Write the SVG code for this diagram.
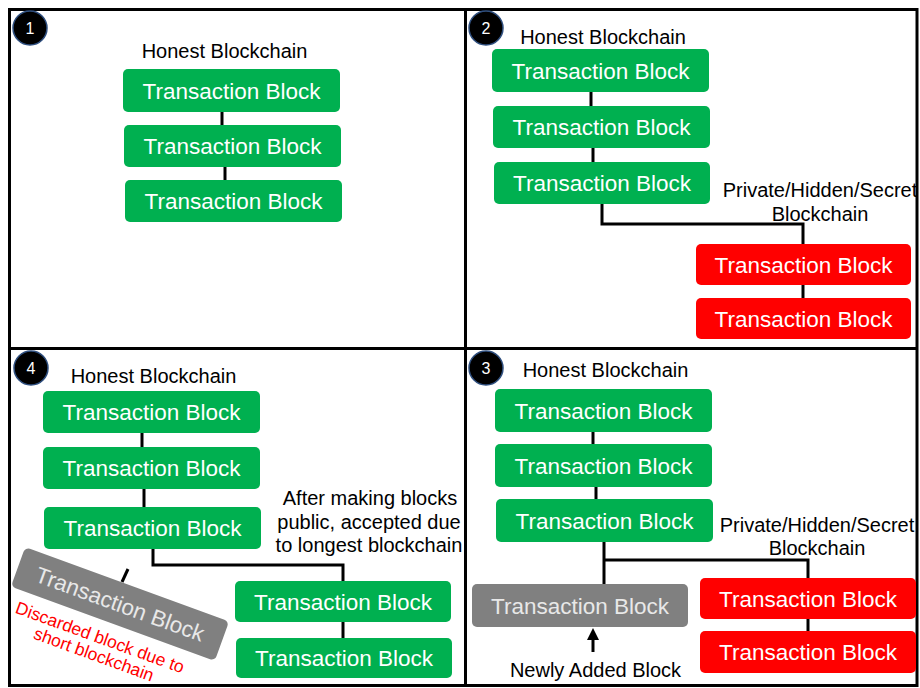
<svg xmlns="http://www.w3.org/2000/svg" width="920" height="688" viewBox="0 0 920 688">
<style>
text{font-family:"Liberation Sans",Arial,sans-serif}
.lbl{font-size:20px;fill:#000;text-anchor:middle}
.bt{font-size:22.5px;fill:#fff;text-anchor:middle}
.gt{font-size:22.5px;fill:#e8e8e8;text-anchor:middle}
.g{fill:#00b050}
.r{fill:#ff0000}
.gr{fill:#808080}
.badge circle{fill:#000;stroke:#2f4f7f;stroke-width:1.5}
.badge text{font-size:16px;fill:#fff;text-anchor:middle}
.c{stroke:#000;stroke-width:3;fill:none}
.red{font-size:17.5px;fill:#ff0000;text-anchor:middle}
</style>
<rect width="920" height="688" fill="#fff"/>
<g id="frame" fill="none" stroke="#000" stroke-width="3">
<rect x="9.5" y="9.5" width="907.5" height="676"/>
<line x1="465.5" y1="9.5" x2="465.5" y2="685.5"/>
<line x1="9.5" y1="348.5" x2="917" y2="348.5"/>
</g>
<g id="connectors">
<line class="c" x1="222" y1="112" x2="222" y2="125"/>
<line class="c" x1="225" y1="167" x2="225" y2="180"/>
<line class="c" x1="591" y1="92" x2="591" y2="106"/>
<line class="c" x1="593" y1="148" x2="593" y2="162"/>
<path class="c" d="M602 204V224H803V244"/>
<line class="c" x1="803" y1="285" x2="803" y2="298"/>
<line class="c" x1="142" y1="433" x2="142" y2="447"/>
<line class="c" x1="144" y1="489" x2="144" y2="507"/>
<path class="c" d="M153 549V565H343V581"/>
<line class="c" x1="343" y1="622" x2="343" y2="638"/>
<line class="c" x1="128" y1="569" x2="122" y2="582"/>
<line class="c" x1="593" y1="432" x2="593" y2="444"/>
<line class="c" x1="596" y1="487" x2="596" y2="499"/>
<path class="c" d="M604 542V585M604 560H808V578"/>
<line class="c" x1="808" y1="619" x2="808" y2="631"/>
<line class="c" x1="593" y1="652" x2="593" y2="638"/>
<polygon points="593,628 587,640 599,640" fill="#000"/>
</g>
<!-- Panel 1 -->
<g id="badge1" class="badge"><circle cx="30" cy="28" r="17"/><text x="30" y="34">1</text></g>
<g id="p1-label"><text class="lbl" x="224.5" y="58">Honest Blockchain</text></g>
<g id="p1-b1"><rect class="g" x="123" y="69" width="217" height="43" rx="5"/><text class="bt" x="231.5" y="98.5">Transaction Block</text></g>
<g id="p1-b2"><rect class="g" x="124" y="125" width="217" height="42" rx="5"/><text class="bt" x="232.5" y="154">Transaction Block</text></g>
<g id="p1-b3"><rect class="g" x="125" y="180" width="217" height="42" rx="5"/><text class="bt" x="233.5" y="209">Transaction Block</text></g>
<!-- Panel 2 -->
<g id="badge2" class="badge"><circle cx="486" cy="28" r="17"/><text x="486" y="34">2</text></g>
<g id="p2-label"><text class="lbl" x="603" y="44">Honest Blockchain</text></g>
<g id="p2-b1"><rect class="g" x="492" y="49" width="217" height="43" rx="5"/><text class="bt" x="600.5" y="78.5">Transaction Block</text></g>
<g id="p2-b2"><rect class="g" x="493" y="106" width="217" height="42" rx="5"/><text class="bt" x="601.5" y="135">Transaction Block</text></g>
<g id="p2-b3"><rect class="g" x="494" y="162" width="216" height="42" rx="5"/><text class="bt" x="602" y="191">Transaction Block</text></g>
<g id="p2-private"><text class="lbl" x="820" y="197">Private/Hidden/Secret</text><text class="lbl" x="820" y="221">Blockchain</text></g>
<g id="p2-r1"><rect class="r" x="696" y="244" width="215" height="41" rx="5"/><text class="bt" x="803.5" y="272.5">Transaction Block</text></g>
<g id="p2-r2"><rect class="r" x="696" y="298" width="215" height="41" rx="5"/><text class="bt" x="803.5" y="326.5">Transaction Block</text></g>
<!-- Panel 4 -->
<g id="badge4" class="badge"><circle cx="31" cy="368" r="17"/><text x="31" y="374">4</text></g>
<g id="p4-label"><text class="lbl" x="153.5" y="383">Honest Blockchain</text></g>
<g id="p4-b1"><rect class="g" x="43" y="391" width="217" height="42" rx="5"/><text class="bt" x="151.5" y="420">Transaction Block</text></g>
<g id="p4-b2"><rect class="g" x="43" y="447" width="217" height="42" rx="5"/><text class="bt" x="151.5" y="476">Transaction Block</text></g>
<g id="p4-b3"><rect class="g" x="44" y="507" width="217" height="42" rx="5"/><text class="bt" x="152.5" y="536">Transaction Block</text></g>
<g id="p4-note"><text class="lbl" x="370" y="505">After making blocks</text><text class="lbl" x="369" y="529">public, accepted due</text><text class="lbl" x="369" y="552">to longest blockchain</text></g>
<g id="p4-b4"><rect class="g" x="235" y="581" width="216" height="41" rx="5"/><text class="bt" x="343" y="609.5">Transaction Block</text></g>
<g id="p4-b5"><rect class="g" x="236" y="638" width="216" height="40" rx="5"/><text class="bt" x="344" y="666">Transaction Block</text></g>
<g id="p4-discarded" transform="translate(120,604) rotate(20)"><rect class="gr" x="-108.5" y="-21" width="217" height="42" rx="5"/><text class="gt" x="0" y="8">Transaction Block</text></g>
<g id="p4-discard-note" transform="translate(98,643) rotate(20)"><text class="red" x="0" y="0">Discarded block due to</text><text class="red" x="0" y="18">short blockchain</text></g>
<!-- Panel 3 -->
<g id="badge3" class="badge"><circle cx="486" cy="368" r="17"/><text x="486" y="374">3</text></g>
<g id="p3-label"><text class="lbl" x="605.5" y="377">Honest Blockchain</text></g>
<g id="p3-b1"><rect class="g" x="495" y="389" width="217" height="43" rx="5"/><text class="bt" x="603.5" y="418.5">Transaction Block</text></g>
<g id="p3-b2"><rect class="g" x="495" y="444" width="217" height="43" rx="5"/><text class="bt" x="603.5" y="473.5">Transaction Block</text></g>
<g id="p3-b3"><rect class="g" x="496" y="499" width="217" height="43" rx="5"/><text class="bt" x="604.5" y="528.5">Transaction Block</text></g>
<g id="p3-private"><text class="lbl" x="817" y="532">Private/Hidden/Secret</text><text class="lbl" x="817" y="555">Blockchain</text></g>
<g id="p3-gray"><rect class="gr" x="472" y="584" width="216" height="43" rx="5"/><text class="gt" x="580" y="613.5">Transaction Block</text></g>
<g id="p3-r1"><rect class="r" x="700" y="578" width="216" height="41" rx="5"/><text class="bt" x="808" y="606.5">Transaction Block</text></g>
<g id="p3-r2"><rect class="r" x="700" y="631" width="216" height="42" rx="5"/><text class="bt" x="808" y="660">Transaction Block</text></g>
<g id="p3-newly"><text class="lbl" x="595.5" y="677">Newly Added Block</text></g>
</svg>
